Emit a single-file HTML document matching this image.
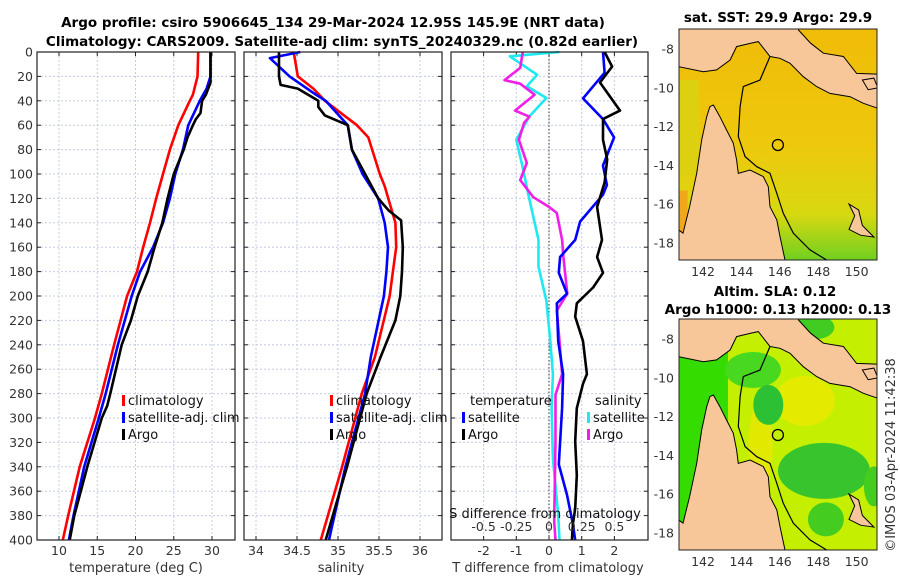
<!DOCTYPE html>
<html><head><meta charset="utf-8"><style>
body{margin:0;background:#fff;}
svg{display:block;font-family:"DejaVu Sans","Liberation Sans",sans-serif;}
.tk{font-size:12.5px;fill:#333;}
.tt{font-size:13.5px;font-weight:bold;fill:#000;}
.lg{font-size:13px;fill:#111;}
</style></head><body>
<svg id="c" width="900" height="580" viewBox="0 0 900 580">
<g id="g"></g>
</svg>
<script>
// ---- data ----
const tempDepths=[0,20,35,40,60,80,100,120,140,160,180,200,240,280,300,340,380,400];
const tempClim=[28.2,28.1,27.5,27.1,25.6,24.5,23.6,22.7,21.9,21.0,20.2,18.9,17.2,15.6,14.7,12.7,11.2,10.5];
const tempSatDepths=[0,20,30,40,60,80,100,120,140,160,180,200,240,280,300,340,380,400];
const tempSat=[29.8,29.8,29.3,28.4,26.9,26.2,25.2,24.5,23.6,22.3,20.6,19.5,17.7,16.1,15.2,13.3,11.9,11.3];
const tempArgoDepths=[0,25,35,40,50,55,60,70,80,100,120,140,160,180,200,220,240,280,290,300,340,380,400];
const tempArgo=[29.8,29.8,29.2,28.7,28.5,27.9,27.5,26.8,26.3,25.0,24.2,23.5,22.5,21.6,20.3,19.4,18.2,16.7,16.3,15.6,13.7,12.0,11.4];
const salClimDepths=[0,20,30,40,60,70,100,110,140,160,180,200,250,280,340,400];
const salClim=[34.46,34.51,34.70,34.84,35.23,35.37,35.51,35.57,35.70,35.71,35.67,35.63,35.45,35.29,35.05,34.79];
const salSatDepths=[0,5,20,35,40,60,80,100,120,140,160,180,200,250,280,340,400];
const salSat=[34.54,34.17,34.41,34.73,34.85,35.12,35.17,35.30,35.49,35.57,35.61,35.59,35.56,35.40,35.33,35.09,34.89];
const salArgoDepths=[0,20,27,30,40,45,52,60,80,100,120,130,138,160,180,200,220,250,280,340,400];
const salArgo=[34.28,34.28,34.30,34.51,34.76,34.76,34.84,35.12,35.17,35.33,35.49,35.62,35.77,35.79,35.78,35.76,35.70,35.52,35.35,35.11,34.85];
const dSalSatDepths=[0,3.5,18.7,28,37.7,52.8,72,95,116,135,154,176,204,237,264,292,333,379,400];
const dSalSat=[0.08,-0.30,-0.09,-0.17,-0.02,-0.15,-0.25,-0.20,-0.16,-0.12,-0.08,-0.08,-0.02,0.01,0.03,0.02,0.03,0.07,0.08];
const dSalArgoDepths=[0,13,23,26,35,48,53,58,72,91,105,119,127,132,154,168,198,212,237,264,281,319,385,400];
const dSalArgo=[-0.20,-0.22,-0.34,-0.22,-0.11,-0.26,-0.15,-0.19,-0.23,-0.17,-0.22,-0.12,0.0,0.06,0.10,0.11,0.14,0.06,0.08,0.10,0.05,0.05,0.04,0.05];
const dTempSatDepths=[0,17,38,55,70,93,109,117,139,154,168,181,198,206,237,264,292,338,363,387,400];
const dTempSat=[1.65,1.70,1.04,1.65,1.99,1.65,1.77,1.65,0.95,0.80,0.34,0.30,0.55,0.24,0.28,0.43,0.40,0.30,0.55,0.73,0.80];
const dTempArgoDepths=[0,12,25,48,55,72,88,107,127,154,168,181,193,206,217,237,264,272,292,319,347,374,387,400];
const dTempArgo=[1.70,1.93,1.56,2.17,1.65,1.65,1.78,1.70,1.47,1.62,1.47,1.65,1.35,0.85,0.80,1.04,1.16,1.04,0.85,0.80,0.85,0.80,0.73,0.70];
const depthTicks=[0,20,40,60,80,100,120,140,160,180,200,220,240,260,280,300,320,340,360,380,400];
const tempTicks=[10,15,20,25,30];
const salTicks=[34,34.5,35,35.5,36];
const dTempTicks=[-2,-1,0,1,2];
const dSalTicks=[-0.5,-0.25,0,0.25,0.5];
const dSalTickLabels=["-0.5","-0.25","0","0.25","0.5"];
const lonTicks=[142,144,146,148,150];
const latTicks=[-8,-10,-12,-14,-16,-18];
const argoLon=[145.9], argoLat=[-12.95];

// ---- helpers ----
const NS="http://www.w3.org/2000/svg", G=document.getElementById('g');
function mk(tag,attrs,parent){const e=document.createElementNS(NS,tag);for(const k in attrs)e.setAttribute(k,attrs[k]);(parent||G).appendChild(e);return e;}
const Y0=52,Y1=540;
const yD=d=>Y0+d*(Y1-Y0)/400;
const xT=t=>59+(t-10)*7.65;
const xS=s=>256+(s-34)*82;
const xDT=t=>549+t*32.7;
const xDS=s=>549+s*130.8;

function gridAndFrame(x0,x1,xs,name){
  const grp=mk('g',{});
  
  
  depthTicks.forEach(d=>{if(d>0&&d<400)mk('line',{x1:x0,x2:x1,y1:yD(d),y2:yD(d),stroke:'#c5cce6','stroke-width':1,'stroke-dasharray':'2,2'},grp);
    mk('line',{x1:x0,x2:x0+4,y1:yD(d),y2:yD(d),stroke:'#222'},grp);mk('line',{x1:x1-4,x2:x1,y1:yD(d),y2:yD(d),stroke:'#222'},grp);});
  xs.forEach(x=>{mk('line',{x1:x,x2:x,y1:Y0,y2:Y1,stroke:'#c5cce6','stroke-width':1,'stroke-dasharray':'2,2'},grp);
    mk('line',{x1:x,x2:x,y1:Y1-4,y2:Y1,stroke:'#222'},grp);mk('line',{x1:x,x2:x,y1:Y0,y2:Y0+4,stroke:'#222'},grp);});
  return grp;
}
function line(depths,vals,xf,color,name,w){
  const p=mk('polyline',{points:depths.map((d,i)=>xf(vals[i]).toFixed(1)+','+yD(d).toFixed(1)).join(' '),fill:'none',stroke:color,'stroke-width':w||2.6,'stroke-linejoin':'round'});
  
  
}
function frame(x0,x1){mk('rect',{x:x0,y:Y0,width:x1-x0,height:Y1-Y0,fill:'none',stroke:'#222','stroke-width':1.2});}
function txt(x,y,s,cls,anchor,name,extra){const t=mk('text',Object.assign({x:x,y:y,class:cls,'text-anchor':anchor||'start'},extra||{}));t.textContent=s;
  
  return t;}

// titles
txt(333,27,"Argo profile: csiro 5906645_134 29-Mar-2024 12.95S 145.9E (NRT data)","tt","middle","main-title");
txt(342,46,"Climatology: CARS2009. Satellite-adj clim: synTS_20240329.nc (0.82d earlier)","tt","middle","sub-title");

// panel 1
gridAndFrame(37,235,tempTicks.map(xT),'temperature-grid');
line(tempDepths,tempClim,xT,'#f00','temp-climatology-line');
line(tempSatDepths,tempSat,xT,'#00f','temp-satellite-line');
line(tempArgoDepths,tempArgo,xT,'#000','temp-argo-line');
frame(37,235);
depthTicks.forEach(d=>txt(33,yD(d)+4.5,String(d),"tk","end","depth-tick-label"));
tempTicks.forEach(t=>txt(xT(t),555,String(t),"tk","middle","temp-tick-label"));
txt(136,572,"temperature (deg C)","tk","middle","temp-axis-title",{style:'font-size:13px'});

// panel 2
gridAndFrame(244,442,salTicks.map(xS),'salinity-grid');
line(salClimDepths,salClim,xS,'#f00','sal-climatology-line');
line(salSatDepths,salSat,xS,'#00f','sal-satellite-line');
line(salArgoDepths,salArgo,xS,'#000','sal-argo-line');
frame(244,442);
salTicks.forEach(t=>txt(xS(t),555,String(t),"tk","middle","sal-tick-label"));
txt(341,572,"salinity","tk","middle","sal-axis-title",{style:'font-size:13px'});

// panel 3
gridAndFrame(451,648,dTempTicks.map(xDT),'difference-grid');
mk('line',{x1:xDT(0),x2:xDT(0),y1:Y0,y2:Y1,stroke:'#333','stroke-width':1,'stroke-dasharray':'1.5,2'});
line(dSalSatDepths,dSalSat,xDS,'#1ee8f0','dsal-satellite-line');
line(dSalArgoDepths,dSalArgo,xDS,'#f01ee8','dsal-argo-line');
line(dTempSatDepths,dTempSat,xDT,'#00f','dtemp-satellite-line');
line(dTempArgoDepths,dTempArgo,xDT,'#000','dtemp-argo-line');
frame(451,648);
dTempTicks.forEach(t=>txt(xDT(t),555,String(t),"tk","middle","dtemp-tick-label"));
dSalTicks.forEach((t,i)=>txt(xDS(t),531,dSalTickLabels[i],"tk","middle","dsal-tick-label"));
txt(545,518,"S difference from climatology","lg","middle","dsal-axis-title");
txt(548,572,"T difference from climatology","tk","middle","dtemp-axis-title",{style:'font-size:13px'});

// legends
function leg(x,y,color,label,name){const g=mk('g',{});
  mk('rect',{x:x,y:y-10,width:3,height:11,fill:color},g);const t=mk('text',{x:x+6,y:y,class:'lg'},g);t.textContent=label;}
leg(122,405,'#f00','climatology','legend-climatology');
leg(122,422,'#00f','satellite-adj. clim','legend-satellite-adj');
leg(122,439,'#000','Argo','legend-argo');
leg(330,405,'#f00','climatology','legend-climatology-sal');
leg(330,422,'#00f','satellite-adj. clim','legend-satellite-adj-sal');
leg(330,439,'#000','Argo','legend-argo-sal');
txt(470,405,"temperature","lg","start","legend-temperature-heading");
leg(462,422,'#00f','satellite','legend-dtemp-satellite');
leg(462,439,'#000','Argo','legend-dtemp-argo');
txt(595,405,"salinity","lg","start","legend-salinity-heading");
leg(587,422,'#1ee8f0','satellite','legend-dsal-satellite');
leg(587,439,'#f01ee8','Argo','legend-dsal-argo');

// maps
function drawMap(top,kind,name){
  const x0=679,x1=877,lon0=140.75,lon1=151.06,latTop=-6.97,latBot=-18.88;
  const bottom=top+231;
  const X=l=>x0+(l-lon0)*(x1-x0)/(lon1-lon0);
  const Yl=a=>top+(latTop-a)*(bottom-top)/(latTop-latBot);
  const g=mk('g',{});
  const id='cl'+kind;const cp=mk('clipPath',{id:id},g);mk('rect',{x:x0,y:top,width:x1-x0,height:bottom-top},cp);
  const inner=mk('g',{'clip-path':'url(#'+id+')'},g);
  if(kind==='sst'){
    const gr=mk('linearGradient',{id:'gs',x1:0,y1:0,x2:0,y2:1},g);
    mk('stop',{offset:'0','stop-color':'#f0bc08'},gr);mk('stop',{offset:'0.5','stop-color':'#eec80c'},gr);mk('stop',{offset:'0.8','stop-color':'#d8d810'},gr);mk('stop',{offset:'1','stop-color':'#70d020'},gr);
    mk('rect',{x:x0,y:top,width:x1-x0,height:bottom-top,fill:'url(#gs)'},inner);
    mk('rect',{x:x0,y:Yl(-15.3),width:X(141.2)-x0,height:bottom-Yl(-15.3),fill:'#f0a818'},inner);
    mk('rect',{x:x0,y:Yl(-9.6),width:X(141.8)-x0,height:Yl(-14.5)-Yl(-9.6),fill:'#dcd010'},inner);
  }else{
    mk('rect',{x:x0,y:top,width:x1-x0,height:bottom-top,fill:'#c4f000'},inner);
    mk('ellipse',{cx:X(147.3),cy:Yl(-11.2),rx:30,ry:25,fill:'#e4ea00'},inner);
    mk('ellipse',{cx:X(145.0),cy:Yl(-13.5),rx:12,ry:45,fill:'#e2e800'},inner);
    mk('rect',{x:x0,y:top,width:X(143.3)-x0,height:bottom-top,fill:'#34dc00'},inner);
    mk('ellipse',{cx:X(144.6),cy:Yl(-9.6),rx:28,ry:18,fill:'#48d820'},inner);
    mk('ellipse',{cx:X(145.4),cy:Yl(-11.4),rx:15,ry:20,fill:'#2cc034'},inner);
    mk('ellipse',{cx:X(148.3),cy:Yl(-14.8),rx:46,ry:28,fill:'#38c42c'},inner);
    mk('ellipse',{cx:X(148.4),cy:Yl(-17.3),rx:18,ry:17,fill:'#44cc20'},inner);
    mk('ellipse',{cx:X(150.9),cy:Yl(-15.6),rx:10,ry:20,fill:'#44cc20'},inner);
    mk('ellipse',{cx:X(147.8),cy:Yl(-7.4),rx:20,ry:12,fill:'#40cc20'},inner);
  }
  const land=c=>c.map(p=>X(p[0]).toFixed(1)+','+Yl(p[1]).toFixed(1)).join(' ');
  const aus=[[140.7,-17.3],[140.96,-17.5],[141.3,-16.13],[141.67,-14.41],[141.93,-12.69],[142.19,-11.49],[142.36,-10.97],[142.54,-10.89],[142.88,-11.49],[143.23,-12.18],[143.58,-12.86],[143.75,-13.72],[143.84,-14.41],[144.45,-14.24],[145.14,-14.58],[145.4,-15.1],[145.49,-16.13],[145.84,-16.81],[146.01,-17.67],[146.27,-18.88],[146.3,-19.3],[140.7,-19.3]];
  const ng=[[140.7,-6.8],[146.97,-6.8],[146.97,-7.02],[147.6,-7.7],[148.27,-8.22],[149.31,-8.39],[150.0,-9.26],[151.1,-9.3],[151.1,-11.06],[150.35,-10.8],[149.66,-10.46],[148.61,-10.29],[147.92,-9.94],[147.22,-9.43],[146.53,-8.74],[146.01,-8.48],[145.49,-8.39],[144.88,-7.62],[144.45,-7.71],[143.75,-7.88],[143.41,-8.57],[142.71,-9.08],[142.02,-9.17],[140.7,-8.91]];
  const landFill='#f7c79a';
  mk('polygon',{points:land(aus),fill:landFill,stroke:'#000','stroke-width':1},inner);
  mk('polygon',{points:land(ng),fill:landFill,stroke:'#000','stroke-width':1},inner);
  mk('polyline',{points:land([[145.49,-8.39],[144.97,-9.6],[144.1,-9.94],[143.93,-10.97],[143.84,-12.52],[144.19,-13.55],[144.8,-14.07],[145.49,-14.41],[145.84,-15.44],[146.18,-16.47],[146.7,-17.5],[147.57,-18.36],[148.44,-18.88]]),fill:'none',stroke:'#000','stroke-width':1.2},inner);
  mk('polygon',{points:land([[149.6,-16.0],[149.9,-16.6],[149.6,-17.3],[150.2,-17.6],[150.9,-17.7],[150.3,-17.1],[150.1,-16.3]]),fill:landFill,stroke:'#000'},inner);
  mk('polygon',{points:land([[150.3,-9.6],[150.9,-9.5],[151.1,-10.0],[150.6,-10.1]]),fill:landFill,stroke:'#000'},inner);
  argoLon.forEach((l,i)=>{const c=mk('circle',{cx:X(l),cy:Yl(argoLat[i]),r:5.5,fill:'none',stroke:'#000','stroke-width':1.3},g);});
  mk('rect',{x:x0,y:top,width:x1-x0,height:bottom-top,fill:'none',stroke:'#222'},g);
  lonTicks.forEach(l=>txt(X(l),bottom+16,String(l),"tk","middle","lon-tick-label"));
  latTicks.forEach(a=>{if(Yl(a)>top&&Yl(a)<bottom)txt(x0-5,Yl(a)+4.5,String(a),"tk","end","lat-tick-label");});
}
drawMap(29,'sst','sst-map');
drawMap(319,'sla','sla-map');
txt(778,22,"sat. SST: 29.9 Argo: 29.9","tt","middle","sst-map-title");
txt(775,296,"Altim. SLA: 0.12","tt","middle","sla-map-title");
txt(778,314,"Argo h1000: 0.13 h2000: 0.13","tt","middle","argo-height-title");
txt(0,0,"©IMOS 03-Apr-2024 11:42:38","tk","middle","imos-stamp",{transform:'translate(895,455) rotate(-90)',style:'font-size:13px'});
</script>
</body></html>
